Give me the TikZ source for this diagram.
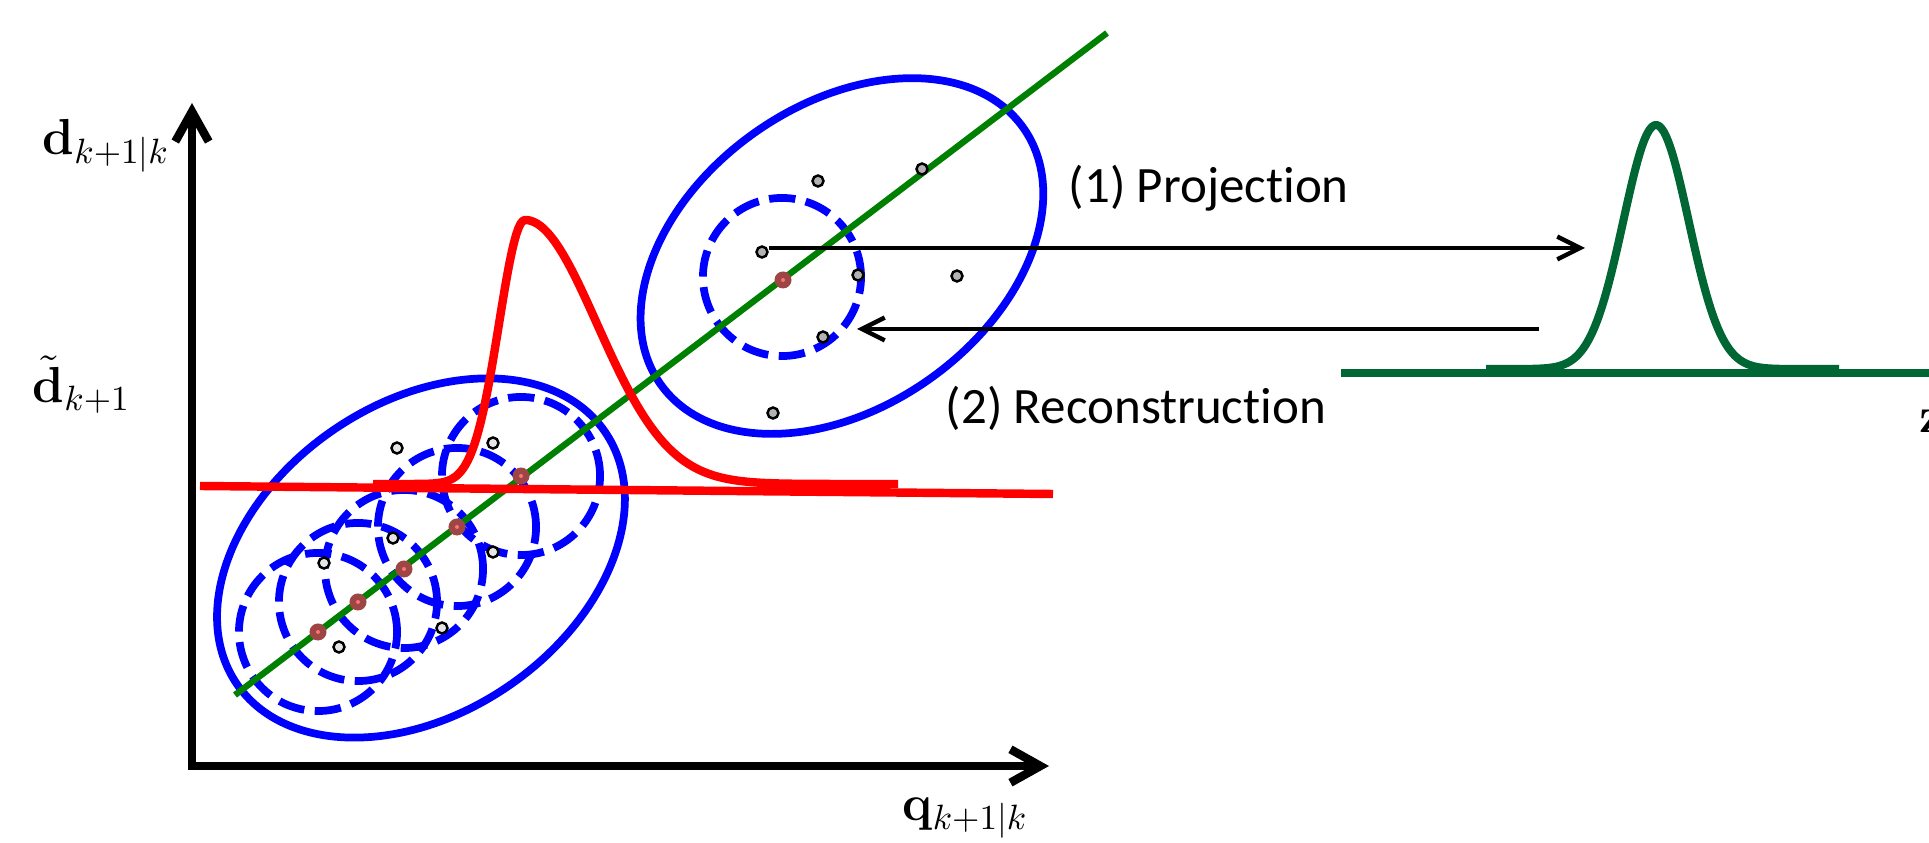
\documentclass[tikz,border=0pt]{standalone}
\usepackage[no-math]{fontspec}
\setmainfont{Carlito}[Ligatures=NoCommon]
\usetikzlibrary{arrows.meta}
\definecolor{myblue}{RGB}{0,0,255}
\definecolor{myred}{RGB}{255,0,0}
\definecolor{lgreen}{RGB}{0,128,0}
\definecolor{dgreen}{RGB}{0,102,52}
\definecolor{dotred}{RGB}{158,70,70}
\begin{document}
\begin{tikzpicture}[x=0.01cm,y=-0.01cm,
  axisline/.style={line width=2.4pt, line join=miter,
    {Straight Barb[length=8.5pt,width=9.5pt]}-{Straight Barb[length=8.5pt,width=9.5pt]}},
  bigell/.style={draw=myblue, line width=2.2pt},
  dcirc/.style={draw=myblue, line width=2.2pt, dash pattern=on 7.5pt off 3pt},
  gline/.style={draw=lgreen, line width=1.8pt},
  rline/.style={draw=myred, line width=2.4pt, line join=round},
  dgline/.style={draw=dgreen, line width=2.3pt, line join=round},
  gpt/.style={circle, draw=black, line width=0.7pt, fill=gray!60, inner sep=0pt, minimum size=0.11cm},
  lpt/.style={gpt, fill=gray!20},
  rdot/.style={circle, fill=dotred, inner sep=0pt, minimum size=0.17cm},
  parrow/.style={line width=1.25pt, -{Straight Barb[length=6.5pt,width=6.5pt]}},
  txt/.style={anchor=base west, inner sep=0pt, font=\fontsize{14.5pt}{17pt}\selectfont},
  mlab/.style={anchor=base west, inner sep=0pt, font=\fontsize{14pt}{16pt}\selectfont}
]
\useasboundingbox (0,0) rectangle (1929,843);

% axes
\coordinate (O) at (192,766);
\coordinate (ytip) at (192,103);
\coordinate (xtip) at (1049,766);
\draw[axisline] (ytip) -- (O) -- (xtip);

% axis labels
\node[mlab] (ldk) at (42,155) {$\mathbf{d}_{k+1|k}$};
\node[mlab] (ldt) at (32,403) {$\tilde{\mathbf{d}}_{k+1}$};
\node[mlab] (lq) at (902,821) {$\mathbf{q}_{k+1|k}$};

% big ellipses
\coordinate (E1) at (421,558);
\coordinate (E2) at (842,256);
\draw[bigell, rotate around={34.4:(E1)}] (E1) ellipse [x radius=2.23cm, y radius=1.55cm];
\draw[bigell, rotate around={35.2:(E2)}] (E2) ellipse [x radius=2.22cm, y radius=1.51cm];

% sigma-point centres on the line
\coordinate (c1) at (521,476);
\coordinate (c2) at (457,527);
\coordinate (c3) at (404,569);
\coordinate (c4) at (358,602);
\coordinate (c5) at (318,632);
\coordinate (cu) at (783,280);

% dashed circles
\foreach \c in {c1,c2,c3,c4,c5}
  \draw[dcirc] (\c) circle [radius=0.79cm];
\draw[dcirc] (782,277) circle [radius=0.79cm];

% green line
\coordinate (g0) at (235,695);
\coordinate (g1) at (1107,33);
\draw[gline] (g0) -- (g1);

% red line and skewed gaussian
\coordinate (r0) at (200,486);
\coordinate (r1) at (1053,494);
\draw[rline] (r0) -- (r1);
\draw[rline] plot[domain=373:525, samples=70] (\x,{484-264*exp(-0.5*((\x-525)/26)^2)})
  -- plot[domain=525:898, samples=120] (\x,{484-264*exp(-0.5*((\x-525)/72)^2)});

% red dots
\foreach \c in {c1,c2,c3,c4,c5,cu}{
  \node[rdot] at (\c) {};
  \fill[red!55!white] (\c) circle [radius=0.02cm];
}

% lower sample points
\node[lpt] (l1) at (397,448) {};
\node[lpt] (l2) at (493,443) {};
\node[lpt] (l3) at (393,538) {};
\node[lpt] (l4) at (493,552) {};
\node[lpt] (l5) at (324,563) {};
\node[lpt] (l6) at (339,647) {};
\node[lpt] (l7) at (442,628) {};

% upper sample points
\node[gpt] (u1) at (818,181) {};
\node[gpt] (u2) at (922,169) {};
\node[gpt] (u3) at (762,252) {};
\node[gpt] (u4) at (858,275) {};
\node[gpt] (u5) at (957,276) {};
\node[gpt] (u6) at (823,337) {};
\node[gpt] (u7) at (773,413) {};

% projection / reconstruction arrows
\coordinate (pend) at (1585,248);
\coordinate (rstart) at (1539,329);
\coordinate (rend) at (857,329);
\draw[parrow] (u3.east |- 0,248) -- (pend);
\draw[parrow] (rstart) -- (rend);

\node[txt] (tproj) at (1068,203) {(1) Projection};
\node[txt] (trec) at (945,424) {(2) Reconstruction};

% right-hand distribution
\coordinate (b0) at (1341,373);
\coordinate (b1) at (1940,373);
\draw[dgline] (b0) -- (b1);
\draw[dgline] plot[domain=1486:1839, samples=150] (\x,{369-244*exp(-0.5*((\x-1656)/32.7)^2)});

\node[mlab] (lz) at (1919,433) {$\mathbf{z}$};
\end{tikzpicture}
\end{document}
